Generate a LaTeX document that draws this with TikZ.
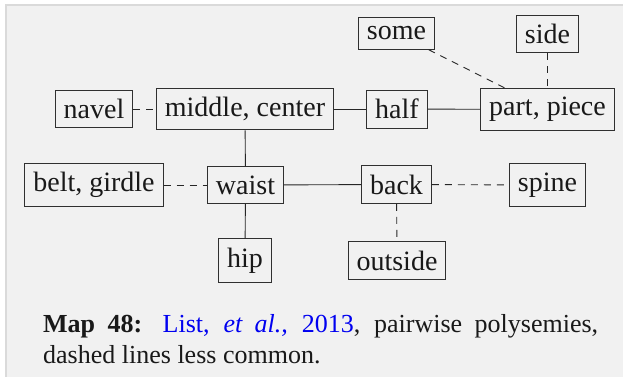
\documentclass[tikz,border=0pt]{standalone}
\usepackage{fontspec}
\setmainfont{LiberationSerif}[Extension=.ttf, UprightFont=*-Regular, BoldFont=*-Bold, ItalicFont=*-Italic, BoldItalicFont=*-BoldItalic]
\definecolor{bggray}{HTML}{F1F1F1}
\definecolor{bgedge}{HTML}{DADADA}
\definecolor{boxline}{HTML}{303030}
\definecolor{linkblue}{HTML}{0000F0}
\begin{document}
\begin{tikzpicture}[x=1pt,y=-1pt,
  concept/.style={draw=boxline, line width=0.9pt, inner xsep=8.5pt, inner ysep=9pt,
    font=\fontsize{28}{30}\selectfont, text=black!90},
  solidlink/.style={draw=black!85, line width=0.9pt},
  dashlink/.style={draw=black!85, line width=0.9pt, dash pattern=on 7pt off 6pt}]
\useasboundingbox (0,0) rectangle (623,376);
\fill[bggray] (6,5) rectangle (640,390);
\draw[bgedge, line width=1.2pt] (6,390) -- (6,5) -- (640,5);
% nodes
\node[concept] (some)    at (396.5,33.5) {some};
\node[concept] (side)    at (547.5,34)   {side};
\node[concept] (navel)   at (94,109)     {navel};
\node[concept] (middle)  at (245,109)    {middle, center};
\node[concept] (half)    at (397,109)    {half};
\node[concept] (part)    at (547.5,109.5){part, piece};
\node[concept] (belt)    at (94,185)     {belt, girdle};
\node[concept] (waist)   at (245.5,185)  {waist};
\node[concept] (back)    at (396.5,184.5){back};
\node[concept] (spine)   at (547.5,185)  {spine};
\node[concept] (hip)     at (245,260.5)  {hip};
\node[concept] (outside) at (397,260.5)  {outside};
% links
\draw[dashlink]  (navel) -- (middle);
\draw[solidlink] (middle) -- (half);
\draw[solidlink] (half) -- (part);
\draw[dashlink]  (some) -- (part);
\draw[dashlink]  (side) -- (part);
\draw[solidlink] (middle) -- (waist);
\draw[dashlink]  (belt) -- (waist);
\draw[solidlink] (waist) -- (back);
\draw[dashlink]  (back) -- (spine);
\draw[dashlink]  (back) -- (outside);
\draw[solidlink] (waist) -- (hip);
% caption
\node[anchor=north west, text width=555pt, align=justify, inner sep=0pt,
  font=\fontsize{26}{31}\selectfont, text=black!90] (caption) at (43,314)
  {\tolerance=9999 \textbf{Map 48:} \textcolor{linkblue}{List, \textit{et al.,} 2013}, pairwise polysemies, dashed lines less common.};
\end{tikzpicture}
\end{document}
